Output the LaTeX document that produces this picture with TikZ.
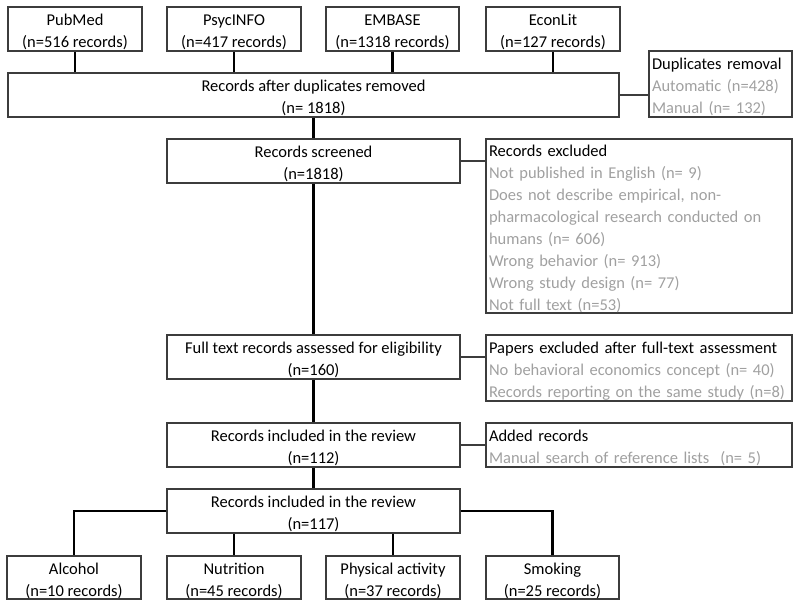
\documentclass[tikz,border=0pt]{standalone}
\usepackage{fontspec}
\setmainfont{Carlito}
\definecolor{greytext}{HTML}{A0A0A0}
\definecolor{boxline}{HTML}{3C3C3C}
\newcommand{\topst}{\rule{0pt}{18pt}}
\begin{document}
\begin{tikzpicture}[x=1pt,y=-1pt,
  box/.style={draw=boxline, line width=1.4pt, inner xsep=3pt, inner ysep=0pt,
    font=\fontsize{16.5}{22}\selectfont, align=center, minimum height=44pt},
  lbox/.style={box, align=left},
  thickln/.style={line width=2.6pt, black},
  thinln/.style={line width=1.5pt, boxline}]
\useasboundingbox (0,0) rectangle (800,608);
% sources
\node[box, minimum width=134pt] (src1) at (75,29) {\topst PubMed\\(n=516 records)};
\node[box, minimum width=134pt] (src2) at (234,29) {\topst PsycINFO\\(n=417 records)};
\node[box, minimum width=133pt] (src3) at (392.5,29) {\topst EMBASE\\(n=1318 records)};
\node[box, minimum width=134pt] (src4) at (553,29) {\topst EconLit\\(n=127 records)};
% main column
\node[box, minimum width=611pt] (rad) at (313.5,95) {\topst Records after duplicates removed\\(n= 1818)};
\node[box, minimum width=293pt] (scr) at (313.5,161) {\topst Records screened\\(n=1818)};
\node[box, minimum width=293pt] (ft) at (313.5,357) {\topst Full text records assessed for eligibility\\(n=160)};
\node[box, minimum width=293pt] (inc) at (313.5,445) {\topst Records included in the review\\(n=112)};
\node[box, minimum width=293pt] (inc2) at (313.5,511) {\topst Records included in the review\\(n=117)};
% side boxes
\node[lbox, minimum width=143pt, minimum height=66pt, text width=137pt] (dup) at (720.5,84)
  {\topst Duplicates removal\\\textcolor{greytext}{Automatic (n=428)}\\\textcolor{greytext}{Manual (n= 132)}};
\node[lbox, minimum width=306pt, minimum height=174pt, text width=300pt] (exc) at (639,226)
  {\topst Records excluded\\\color{greytext}Not published in English (n= 9)\\Does not describe empirical, non-\\pharmacological research conducted on\\humans (n= 606)\\Wrong behavior (n= 913)\\Wrong study design (n= 77)\\Not full text (n=53)};
\node[lbox, minimum width=306pt, minimum height=66pt, text width=300pt] (pex) at (639,368)
  {\topst Papers excluded after full-text assessment\\\color{greytext}No behavioral economics concept (n= 40)\\Records reporting on the same study (n=8)};
\node[lbox, minimum width=306pt, text width=300pt] (add) at (639,445)
  {\topst Added records\\\color{greytext}Manual search of reference lists~ (n= 5)};
% categories
\node[box, minimum width=134pt, minimum height=43pt] (alc) at (74,577.5) {\topst Alcohol\\(n=10 records)};
\node[box, minimum width=134pt, minimum height=43pt] (nut) at (234,577.5) {\topst Nutrition\\(n=45 records)};
\node[box, minimum width=134pt, minimum height=43pt] (phy) at (393,577.5) {\topst Physical activity\\(n=37 records)};
\node[box, minimum width=133pt, minimum height=43pt] (smk) at (552.5,577.5) {\topst Smoking\\(n=25 records)};
% connectors
\foreach \s in {src1,src2,src3,src4}
  \draw[thickln] (\s.south) -- (\s.south |- rad.north);
\draw[thickln] (rad.south -| scr.north) -- (scr.north);
\draw[thickln] (scr.south) -- (ft.north);
\draw[thickln] (ft.south) -- (inc.north);
\draw[thickln] (inc.south) -- (inc2.north);
\draw[thinln] (rad.east) -- (rad.east -| dup.west);
\draw[thinln] (scr.east) -- (scr.east -| exc.west);
\draw[thinln] (ft.east) -- (ft.east -| pex.west);
\draw[thinln] (inc.east) -- (add.west);
\draw[thickln] (inc2.west) -| (alc.north);
\draw[thickln] (inc2.east) -| (smk.north);
\draw[thickln] (nut.north |- inc2.south) -- (nut.north);
\draw[thickln] (phy.north |- inc2.south) -- (phy.north);
\end{tikzpicture}
\end{document}
